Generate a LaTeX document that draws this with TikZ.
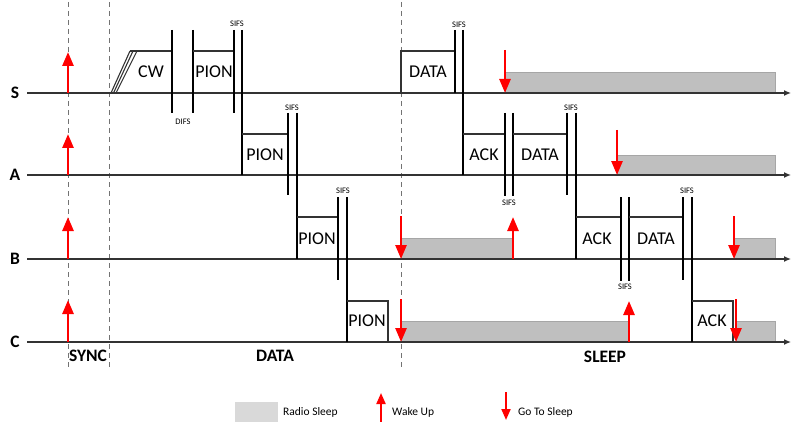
\documentclass[tikz,border=0pt]{standalone}
\usepackage{fontspec}
\setmainfont{Carlito}
\usetikzlibrary{arrows.meta}
\begin{document}
\begin{tikzpicture}[x=1pt,y=-1pt,
  tl/.style={line width=1.3pt, draw=black!80, -{Latex[length=7pt,width=6pt]}},
  tick/.style={line width=1.1pt, draw=black},
  pkt/.style={line width=1.1pt, draw=black!80},
  sleeprect/.style={fill=black!25, draw=black!35, line width=0.8pt},
  wake/.style={red, line width=2.6pt, -{Triangle[length=14pt,width=11pt]}},
  lwake/.style={red, line width=2pt, -{Triangle[length=11pt,width=9pt]}},
  dashv/.style={black!55, line width=0.9pt, dash pattern=on 5pt off 4pt},
  lbl/.style={font=\fontsize{18}{21}\selectfont, inner sep=0pt},
  ax/.style={font=\bfseries\fontsize{17.5}{20}\selectfont, inner sep=0pt},
  sifs/.style={font=\fontsize{8.5}{10}\selectfont, inner sep=0pt},
  leg/.style={font=\fontsize{11.5}{13}\selectfont, inner sep=0pt, anchor=west},
]
\useasboundingbox (0,0) rectangle (791,422);

% dashed phase separators
\draw[dashv] (68,2) -- (68,370);
\draw[dashv] (109,2) -- (109,370);
\draw[dashv] (401,2) -- (401,370);

% radio sleep areas
\draw[sleeprect] (505,72) rectangle (775,93);
\draw[sleeprect] (617,155) rectangle (775,175);
\draw[sleeprect] (401,238) rectangle (512,259);
\draw[sleeprect] (734,238) rectangle (775,259);
\draw[sleeprect] (401,321) rectangle (628,342);
\draw[sleeprect] (736,321) rectangle (775,342);

% timelines
\foreach \yy/\nm in {93/S,175/A,259/B,342/C}{
  \draw[tl] (27,\yy) -- (791,\yy);
  \node[ax] (lab\nm) at (15,\yy) {\nm};
}

% S row: CW + DIFS + PION
\draw[pkt] (111,93) -- (130,51);
\draw[pkt] (113.5,93) -- (133,51);
\draw[pkt] (116,93) -- (137,51);
\draw[pkt] (130,51) -- (172,51);
\draw[tick] (172,30) -- (172,113);
\draw[tick] (193,30) -- (193,113);
\draw[pkt] (193,51) -- (234,51);
\draw[tick] (234,30) -- (234,113);
\draw[tick] (242,30) -- (242,175);
% A PION
\draw[pkt] (242,134) -- (288,134);
\draw[tick] (288,113) -- (288,195);
\draw[tick] (297,113) -- (297,259);
% B PION
\draw[pkt] (297,217) -- (338,217);
\draw[tick] (338,197) -- (338,280);
\draw[tick] (347,197) -- (347,342);
% C PION
\draw[pkt] (347,301) -- (388,301) -- (388,342);

% S DATA
\draw[pkt] (401,93) -- (401,51) -- (455,51);
\draw[tick] (455,30) -- (455,93);
\draw[tick] (463,30) -- (463,175);
% A ACK + DATA
\draw[pkt] (463,134) -- (505,134);
\draw[tick] (505,113) -- (505,196);
\draw[tick] (513,113) -- (513,196);
\draw[pkt] (513,134) -- (567,134);
\draw[tick] (567,113) -- (567,195);
\draw[tick] (576,113) -- (576,259);
% B ACK + DATA
\draw[pkt] (576,217) -- (621,217);
\draw[tick] (621,197) -- (621,281);
\draw[tick] (629,197) -- (629,281);
\draw[pkt] (629,217) -- (683,217);
\draw[tick] (683,197) -- (683,280);
\draw[tick] (692,197) -- (692,342);
% C ACK
\draw[pkt] (692,301) -- (733,301) -- (733,342);

% packet labels
\node[lbl] (cw) at (151,72) {CW};
\node[lbl] (pionS) at (214,72) {PION};
\node[lbl] (pionA) at (265,155) {PION};
\node[lbl] (pionB) at (317,239) {PION};
\node[lbl] (pionC) at (367,321) {PION};
\node[lbl] (dataS) at (428,72) {DATA};
\node[lbl] (ackA) at (484,155) {ACK};
\node[lbl] (dataA) at (540,155) {DATA};
\node[lbl] (ackB) at (597,239) {ACK};
\node[lbl] (dataB) at (656,239) {DATA};
\node[lbl] (ackC) at (712,321) {ACK};

% interframe labels
\node[sifs] (difs) at (183,122) {DIFS};
\node[sifs] (s1) at (237,24) {SIFS};
\node[sifs] (s2) at (292,108) {SIFS};
\node[sifs] (s3) at (343,191) {SIFS};
\node[sifs] (s4) at (459,25) {SIFS};
\node[sifs] (s5) at (509,203) {SIFS};
\node[sifs] (s6) at (571,108) {SIFS};
\node[sifs] (s7) at (625,287) {SIFS};
\node[sifs] (s8) at (687,191) {SIFS};

% phase labels
\node[ax] (sync) at (88,356) {SYNC};
\node[ax] (data) at (275,356) {DATA};
\node[ax] (sleep) at (605,357) {SLEEP};

% wake up arrows
\draw[wake] (68,93) -- (68,52);
\draw[wake] (68,175) -- (68,134);
\draw[wake] (68,259) -- (68,217);
\draw[wake] (68,342) -- (68,300);
\draw[wake] (513,259) -- (513,217);
\draw[wake] (629,342) -- (629,301);
% go to sleep arrows
\draw[wake] (505,50) -- (505,93);
\draw[wake] (617,130) -- (617,175);
\draw[wake] (401,216) -- (401,259);
\draw[wake] (734,216) -- (734,259);
\draw[wake] (401,299) -- (401,342);
\draw[wake] (736,299) -- (736,342);

% legend
\fill[black!15] (235,402) rectangle (278,424);
\node[leg] (lrs) at (283,412) {Radio Sleep};
\draw[lwake] (381,424) -- (381,393);
\node[leg] (lwu) at (392,412) {Wake Up};
\draw[lwake] (506,392) -- (506,420);
\node[leg] (lgs) at (518,412) {Go To Sleep};
\end{tikzpicture}
\end{document}
